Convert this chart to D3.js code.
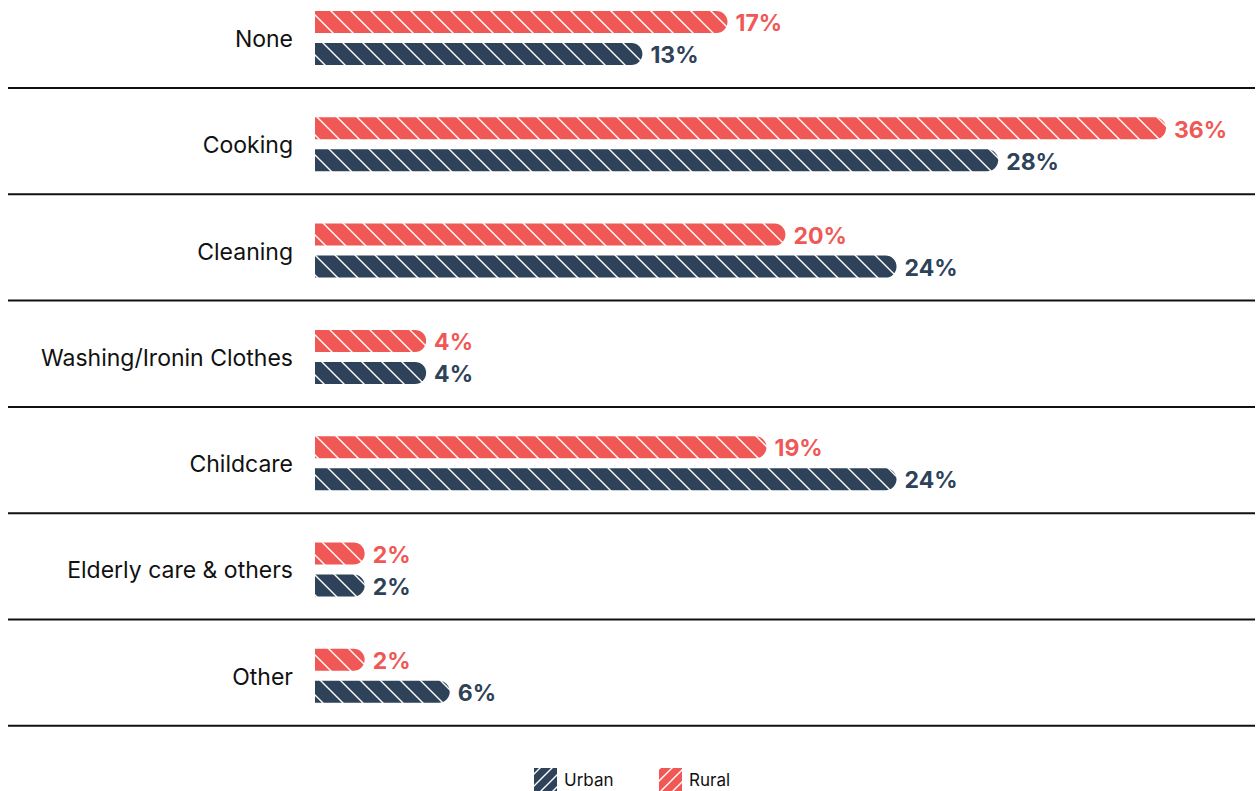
<!DOCTYPE html>
<html><head><meta charset="utf-8">
<script src="https://cdn.jsdelivr.net/npm/d3@7"></script>
<style>body{margin:0;background:#fff}svg{display:block}</style>
</head><body>
<script>
const categories = ["None","Cooking","Cleaning","Washing/Ironin Clothes","Childcare","Elderly care & others","Other"];
const ruralValues = [17.45, 36.0, 19.9, 4.7, 19.1, 2.1, 2.1];
const urbanValues = [13.85, 28.9, 24.6, 4.7, 24.6, 2.1, 5.7];
const ruralLabels = ["17%","36%","20%","4%","19%","2%","2%"];
const urbanLabels = ["13%","28%","24%","4%","24%","2%","6%"];
const seriesNames = ["Urban","Rural"];

const W = 1257, H = 791;
const colors = {Rural:"#f05856", Urban:"#2e4259"};
const svg = d3.select("body").append("svg").attr("width",W).attr("height",H);
const defs = svg.append("defs");
function hatch(id, color, dir, size){
  const p = defs.append("pattern").attr("id",id).attr("patternUnits","userSpaceOnUse")
    .attr("width",size).attr("height",size);
  p.append("rect").attr("width",size).attr("height",size).attr("fill",color);
  const s = size;
  const d = dir === "\\" ? `M0,0L${s},${s}M${-s/2},${s/2}L${s/2},${s*1.5}M${s/2},${-s/2}L${s*1.5},${s/2}`
                         : `M0,${s}L${s},0M${-s/2},${s/2}L${s/2},${-s/2}M${s/2},${s*1.5}L${s*1.5},${s/2}`;
  p.append("path").attr("d",d).attr("stroke","#fff").attr("stroke-width",1.4);
}
hatch("hR", colors.Rural, "\\", 20);
hatch("hU", colors.Urban, "\\", 20);
hatch("lR", colors.Rural, "/", 12);
hatch("lU", colors.Urban, "/", 12);

const x = d3.scaleLinear().domain([0,36]).range([315,1166]);
const rowStep = 106.3, firstLine = 88;
const y = d3.scaleBand().domain(categories).range([firstLine-rowStep, firstLine-rowStep+rowStep*categories.length]).padding(0);
const barH = 22;
const font = "Inter, 'Liberation Sans', sans-serif";

function barPath(x0, x1, yTop, h){
  const r = Math.min(h/2, (x1-x0));
  return `M${x0},${yTop}H${x1-r}A${r},${r} 0 0 1 ${x1},${yTop+r}V${yTop+h-r}A${r},${r} 0 0 1 ${x1-r},${yTop+h}H${x0}Z`;
}

const g = svg.append("g");
categories.forEach((c,i)=>{
  const top = y(c);
  const ry = top + 29.3, uy = top + 61.3;
  g.append("path").attr("d", barPath(x(0), x(ruralValues[i]), ry, barH)).attr("fill","url(#hR)");
  g.append("path").attr("d", barPath(x(0), x(urbanValues[i]), uy, barH)).attr("fill","url(#hU)");
  g.append("text").attr("x", x(ruralValues[i])+8).attr("y", ry+barH/2+1).attr("dy","0.36em")
    .attr("font-family",font).attr("font-weight",700).attr("font-size",23)
    .attr("fill",colors.Rural).text(ruralLabels[i]);
  g.append("text").attr("x", x(urbanValues[i])+8).attr("y", uy+barH/2+1).attr("dy","0.36em")
    .attr("font-family",font).attr("font-weight",700).attr("font-size",23)
    .attr("fill",colors.Urban).text(urbanLabels[i]);
  g.append("text").attr("x",293).attr("y", top + 57).attr("dy","0.36em").attr("text-anchor","end")
    .attr("font-family",font).attr("font-size",23).attr("fill","#111").text(c);
  g.append("line").attr("x1",8).attr("x2",1255).attr("y1",top+rowStep).attr("y2",top+rowStep)
    .attr("stroke","#111").attr("stroke-width",2);
});

const legend = svg.append("g");
const legX = [534, 659];
seriesNames.forEach((s,i)=>{
  legend.append("rect").attr("x",legX[i]).attr("y",768).attr("width",23).attr("height",23)
    .attr("fill", s==="Rural"?"url(#lR)":"url(#lU)");
  legend.append("text").attr("x",legX[i]+30).attr("y",780).attr("dy","0.36em")
    .attr("font-family",font).attr("font-size",17).attr("fill","#111").text(s);
});
</script>
</body></html>
